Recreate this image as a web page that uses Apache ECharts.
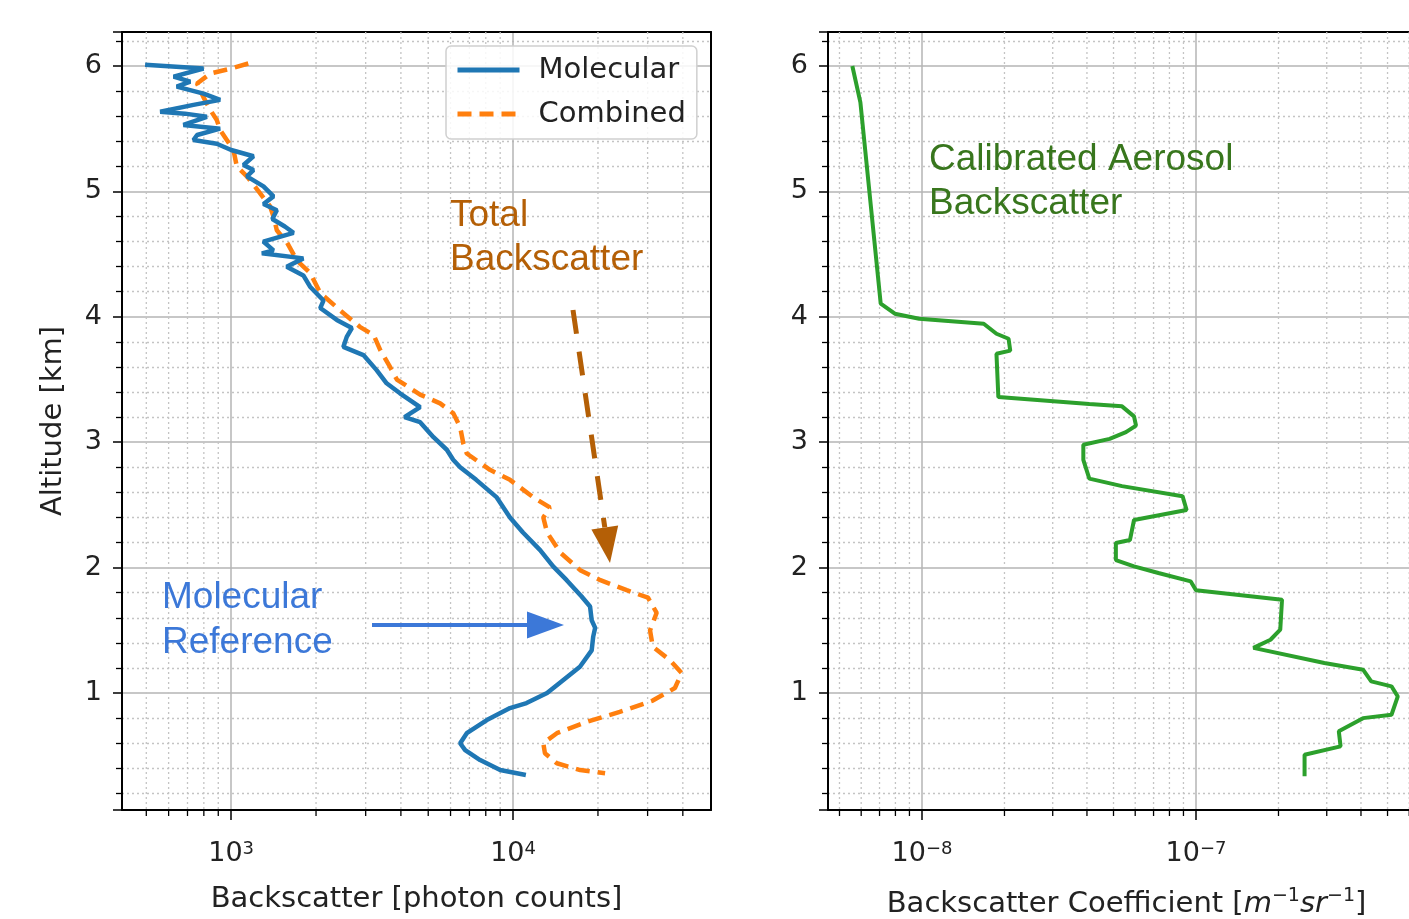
<!DOCTYPE html>
<html>
<head>
<meta charset="utf-8">
<script src="https://cdn.jsdelivr.net/npm/echarts@6/dist/echarts.min.js"></script>
<style>
  html, body { margin: 0; padding: 0; background: #fff; }
  #chart { width: 1409px; height: 919px; }
</style>
</head>
<body>
<div id="chart"></div>
<script>
// ---------------- data ----------------
const molAltitude = [6.01, 5.98, 5.915, 5.875, 5.835, 5.78, 5.73, 5.69, 5.635, 5.62, 5.595, 5.53, 5.50, 5.45, 5.41, 5.38, 5.33, 5.28, 5.21, 5.17, 5.12, 5.04, 4.96, 4.90, 4.85, 4.78, 4.72, 4.67, 4.60, 4.53, 4.506, 4.466, 4.40, 4.33, 4.24, 4.13, 4.07, 3.975, 3.91, 3.84, 3.76, 3.695, 3.575, 3.47, 3.39, 3.28, 3.20, 3.16, 3.04, 2.94, 2.86, 2.80, 2.70, 2.56, 2.40, 2.28, 2.14, 2.01, 1.90, 1.77, 1.69, 1.58, 1.52, 1.45, 1.34, 1.21, 1.10, 1.00, 0.92, 0.88, 0.785, 0.68, 0.60, 0.545, 0.466, 0.386, 0.346];
const molCounts = [495, 798, 625, 716, 641, 798, 914, 735, 560, 686, 820, 677, 914, 757, 735, 889, 1000, 1200, 1106, 1200, 1137, 1302, 1413, 1302, 1452, 1400, 1550, 1664, 1300, 1413, 1285, 1803, 1574, 1803, 1905, 2125, 2070, 2370, 2680, 2570, 2500, 2945, 3280, 3560, 3970, 4680, 4120, 4680, 5220, 5820, 6130, 6490, 7400, 8750, 9750, 10840, 12470, 13870, 15490, 17500, 18750, 19000, 19550, 19240, 19000, 17260, 15000, 13200, 11160, 9750, 8070, 6850, 6490, 6760, 7640, 9000, 11100];

const combAltitude = [6.02, 5.98, 5.94, 5.86, 5.75, 5.65, 5.57, 5.49, 5.41, 5.33, 5.20, 5.12, 4.985, 4.88, 4.80, 4.69, 4.59, 4.45, 4.35, 4.19, 4.05, 3.92, 3.855, 3.735, 3.60, 3.50, 3.38, 3.31, 3.23, 3.12, 2.99, 2.91, 2.78, 2.70, 2.56, 2.48, 2.40, 2.28, 2.12, 1.98, 1.90, 1.82, 1.76, 1.64, 1.50, 1.37, 1.26, 1.16, 1.04, 0.94, 0.85, 0.77, 0.68, 0.60, 0.52, 0.44, 0.386, 0.36];
const combCounts = [1150, 1000, 843, 757, 798, 843, 889, 914, 965, 1019, 1047, 1137, 1267, 1375, 1413, 1452, 1580, 1710, 1905, 2070, 2440, 2860, 3200, 3380, 3660, 3870, 4680, 5510, 6140, 6490, 6660, 6850, 8280, 9750, 11800, 13500, 12800, 13200, 14700, 17300, 20400, 25300, 30100, 32300, 30600, 31300, 36100, 39600, 37500, 31300, 23900, 18250, 14300, 12800, 12970, 14300, 17300, 21200];

const aerAltitude = [6.0, 5.71, 4.105, 4.025, 3.985, 3.945, 3.865, 3.825, 3.73, 3.705, 3.36, 3.305, 3.286, 3.206, 3.133, 3.08, 3.027, 2.98, 2.86, 2.71, 2.65, 2.57, 2.46, 2.38, 2.22, 2.196, 2.06, 2.01, 1.957, 1.89, 1.82, 1.744, 1.505, 1.425, 1.36, 1.24, 1.186, 1.093, 1.053, 0.973, 0.827, 0.80, 0.695, 0.575, 0.508, 0.336];
const aerCoef = [5.57e-9, 5.96e-9, 7.07e-9, 7.96e-9, 9.77e-9, 1.68e-8, 1.87e-8, 2.07e-8, 2.10e-8, 1.87e-8, 1.90e-8, 4.08e-8, 5.37e-8, 5.94e-8, 6.04e-8, 5.55e-8, 4.84e-8, 3.88e-8, 3.88e-8, 4.08e-8, 5.37e-8, 8.93e-8, 9.24e-8, 5.94e-8, 5.74e-8, 5.10e-8, 5.10e-8, 5.94e-8, 7.29e-8, 9.57e-8, 1.0e-7, 2.06e-7, 2.03e-7, 1.87e-7, 1.62e-7, 2.94e-7, 4.07e-7, 4.36e-7, 5.17e-7, 5.45e-7, 5.17e-7, 4.07e-7, 3.32e-7, 3.37e-7, 2.49e-7, 2.49e-7];

const leftMinorX = [500, 600, 700, 800, 900, 2000, 3000, 4000, 5000, 6000, 7000, 8000, 9000, 20000, 30000, 40000];
const rightMinorX = [5e-9, 6e-9, 7e-9, 8e-9, 9e-9, 2e-8, 3e-8, 4e-8, 5e-8, 6e-8, 7e-8, 8e-8, 9e-8, 2e-7, 3e-7, 4e-7, 5e-7, 6e-7];

const seriesNames = ['Molecular', 'Combined'];
const leftXTitle = 'Backscatter [photon counts]';
const rightXTitle = 'Backscatter Coefficient [{i|m}{sup|\u22121}{i|sr}{sup|\u22121}]';
const yTitle = 'Altitude [km]';

// ---------------- helpers ----------------
const AXF = 'DejaVu Sans';
const ANF = 'Liberation Sans, Arial, sans-serif';
const NAME_FS = 29;
const pairs = (xs, ys) => xs.map((v, i) => [v, ys[i]]);

function powLabel(v) {
  const e = Math.round(Math.log10(v));
  return '10{sup|' + String(e).replace('-', '\u2212') + '}';
}

const yRange = { min: 0.0675, max: 6.271 };

function yAxisCfg(gridIndex, showName) {
  return {
    type: 'value', gridIndex: gridIndex, position: 'left',
    min: yRange.min, max: yRange.max, minInterval: 1, maxInterval: 1,
    name: showName ? yTitle : '', nameLocation: 'middle', nameGap: 54,
    nameTextStyle: { fontFamily: AXF, fontSize: NAME_FS, color: '#222' },
    axisLine: { show: true, onZero: false, lineStyle: { color: '#000', width: 2 } },
    axisTick: { show: true, length: 9, lineStyle: { color: '#000', width: 1.5 } },
    minorTick: { show: true, splitNumber: 5, length: 6, lineStyle: { color: '#000', width: 1.3 } },
    axisLabel: { fontFamily: AXF, fontSize: 27, color: '#222', margin: 20, showMinLabel: false, showMaxLabel: false },
    splitLine: { show: true, showMinLine: false, showMaxLine: false, lineStyle: { color: '#b4b4b4', width: 1.5 } },
    minorSplitLine: { show: true, lineStyle: { color: '#c4c4c4', width: 1.3, type: [2, 3] } }
  };
}

function xAxisCfg(gridIndex, min, max, title, nameGap) {
  return {
    type: 'log', logBase: 10, gridIndex: gridIndex, position: 'bottom',
    min: min, max: max,
    name: title, nameLocation: 'middle', nameGap: nameGap,
    nameTextStyle: {
      fontFamily: AXF, fontSize: NAME_FS, color: '#222', lineHeight: 34,
      rich: {
        i: { fontFamily: AXF, fontSize: NAME_FS, fontStyle: 'italic', color: '#222', lineHeight: 34 },
        sup: { fontFamily: AXF, fontSize: 19, color: '#222', verticalAlign: 'top', lineHeight: 20 }
      }
    },
    axisLine: { show: true, onZero: false, lineStyle: { color: '#000', width: 2 } },
    axisTick: { show: true, length: 10, lineStyle: { color: '#000', width: 1.5 } },
    axisLabel: {
      fontFamily: AXF, fontSize: 27, color: '#222', margin: 30,
      showMinLabel: false, showMaxLabel: false,
      formatter: powLabel,
      rich: {
        sup: { fontFamily: AXF, fontSize: 18, color: '#222', verticalAlign: 'top', lineHeight: 18 }
      }
    },
    splitLine: { show: true, showMinLine: false, showMaxLine: false, lineStyle: { color: '#b4b4b4', width: 1.5 } }
  };
}

function frameAxis(gridIndex, pos) {
  return {
    type: 'value', gridIndex: gridIndex, position: pos, min: 0, max: 1,
    axisLine: { show: true, onZero: false, lineStyle: { color: '#000', width: 2 } },
    axisTick: { show: false }, axisLabel: { show: false }, splitLine: { show: false }
  };
}

function minorRender(params, api) {
  const cs = params.coordSys;
  const x = api.coord([api.value(0), 1])[0];
  return {
    type: 'group',
    children: [
      { type: 'line', shape: { x1: x, y1: cs.y, x2: x, y2: cs.y + cs.height },
        style: { stroke: '#c4c4c4', lineWidth: 1.3, lineDash: [2, 3] } },
      { type: 'line', shape: { x1: x, y1: cs.y + cs.height, x2: x, y2: cs.y + cs.height + 6 },
        style: { stroke: '#000', lineWidth: 1.3 } }
    ]
  };
}

const chart = echarts.init(document.getElementById('chart'), null, { renderer: 'canvas' });

const option = {
  animation: false,
  backgroundColor: '#fff',
  grid: [
    { left: 122, top: 32, width: 589, height: 778, show: false, containLabel: false, outerBoundsMode: 'none' },
    { left: 828, top: 32, width: 597, height: 778, show: false, containLabel: false, outerBoundsMode: 'none' }
  ],
  xAxis: [
    xAxisCfg(0, 410, 50350, leftXTitle, 72),
    xAxisCfg(1, 4.54e-9, 6.85e-7, rightXTitle, 77),
    frameAxis(0, 'top'),
    frameAxis(1, 'top')
  ],
  yAxis: [
    yAxisCfg(0, true),
    yAxisCfg(1, false),
    frameAxis(0, 'right'),
    frameAxis(1, 'right')
  ],
  legend: {
    data: seriesNames,
    left: 446, top: 46, orient: 'vertical',
    itemWidth: 62, itemHeight: 14, itemGap: 12,
    padding: [8, 11, 9, 9],
    borderColor: '#d0d0d0', borderWidth: 1.5, borderRadius: 5,
    backgroundColor: 'rgba(255,255,255,0.85)',
    itemStyle: { opacity: 0 },
    lineStyle: { width: 5 },
    textStyle: { fontFamily: AXF, fontSize: 29, color: '#222', padding: [0, 0, 0, 14], lineHeight: 32 }
  },
  series: [
    {
      type: 'custom', name: 'minorLeft', xAxisIndex: 0, yAxisIndex: 0, silent: true, z: 1,
      encode: { x: 0 }, data: leftMinorX.map(v => [v]), renderItem: minorRender, clip: false
    },
    {
      type: 'custom', name: 'minorRight', xAxisIndex: 1, yAxisIndex: 1, silent: true, z: 1,
      encode: { x: 0 }, data: rightMinorX.map(v => [v]), renderItem: minorRender, clip: false
    },
    {
      type: 'line', name: seriesNames[0], xAxisIndex: 0, yAxisIndex: 0, z: 4,
      data: pairs(molCounts, molAltitude), symbol: 'none', showSymbol: false, smooth: false,
      lineStyle: { color: '#1f77b4', width: 4.5 }, itemStyle: { color: '#1f77b4' }
    },
    {
      type: 'line', name: seriesNames[1], xAxisIndex: 0, yAxisIndex: 0, z: 3,
      data: pairs(combCounts, combAltitude), symbol: 'none', showSymbol: false, smooth: false,
      lineStyle: { color: '#ff7f0e', width: 4.5, type: [14, 8] }, itemStyle: { color: '#ff7f0e' }
    },
    {
      type: 'line', name: 'Aerosol', xAxisIndex: 1, yAxisIndex: 1, z: 3,
      data: pairs(aerCoef, aerAltitude), symbol: 'none', showSymbol: false, smooth: false,
      lineStyle: { color: '#2ca02c', width: 4 }, itemStyle: { color: '#2ca02c' }
    }
  ],
  graphic: [
    { type: 'text', left: 450, top: 194, z: 10,
      style: { text: 'Total\nBackscatter', fill: '#b45f06', font: '37px ' + ANF, lineHeight: 44 } },
    { type: 'text', left: 162, top: 575, z: 10,
      style: { text: 'Molecular\nReference', fill: '#3c78d8', font: '37px ' + ANF, lineHeight: 45 } },
    { type: 'text', left: 929, top: 138, z: 10,
      style: { text: 'Calibrated Aerosol\nBackscatter', fill: '#38761d', font: '37px ' + ANF, lineHeight: 44 } },
    { type: 'line', z: 10, shape: { x1: 573, y1: 310, x2: 604.8, y2: 527.4 },
      style: { stroke: '#b45f06', lineWidth: 5, lineDash: [24, 18] } },
    { type: 'polygon', z: 10, shape: { points: [[618.2, 525.4], [591.4, 529.4], [610, 563]] },
      style: { fill: '#b45f06' } },
    { type: 'line', z: 10, shape: { x1: 372, y1: 625, x2: 530, y2: 625 },
      style: { stroke: '#3c78d8', lineWidth: 4 } },
    { type: 'polygon', z: 10, shape: { points: [[527, 611.5], [527, 638.5], [564, 625]] },
      style: { fill: '#3c78d8' } }
  ]
};

chart.setOption(option);
</script>
</body>
</html>
